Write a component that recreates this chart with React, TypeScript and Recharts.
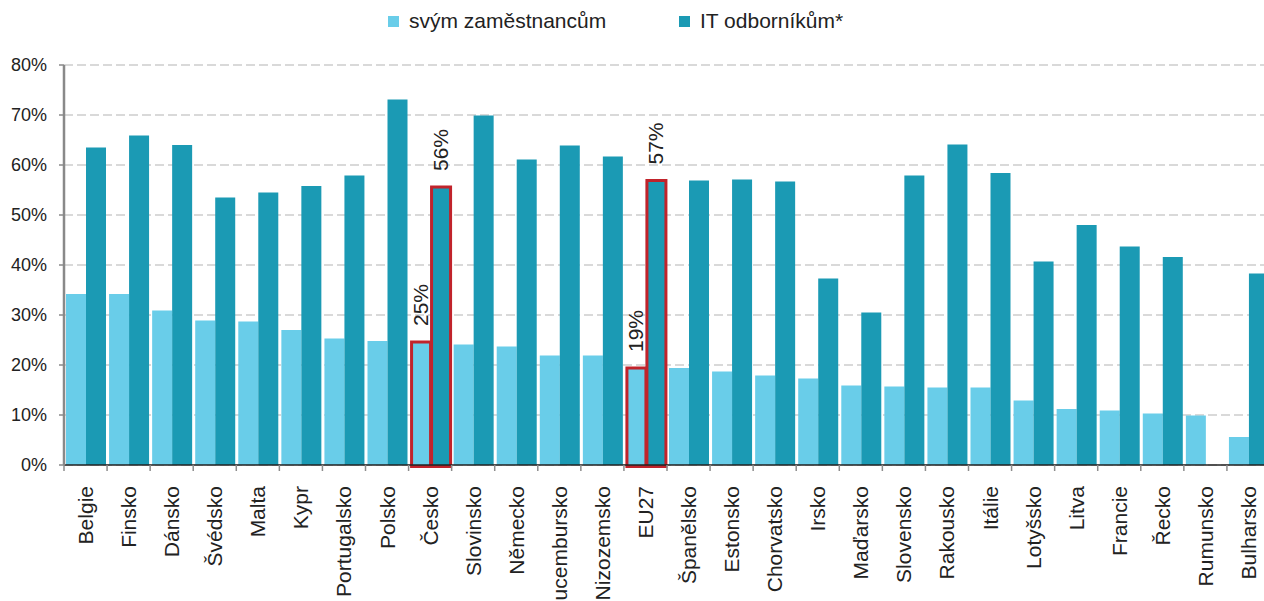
import React from 'react';
import { BarChart, Bar, XAxis, YAxis, CartesianGrid, LabelList } from 'recharts';

const countries = [
  'Belgie', 'Finsko', 'Dánsko', 'Švédsko', 'Malta', 'Kypr', 'Portugalsko', 'Polsko', 'Česko',
  'Slovinsko', 'Německo', 'Lucembursko', 'Nizozemsko', 'EU27', 'Španělsko', 'Estonsko',
  'Chorvatsko', 'Irsko', 'Maďarsko', 'Slovensko', 'Rakousko', 'Itálie', 'Lotyšsko', 'Litva',
  'Francie', 'Řecko', 'Rumunsko', 'Bulharsko',
];

// školení svým zaměstnancům
const ownStaff = [
  34.2, 34.2, 30.9, 28.9, 28.7, 27.0, 25.3, 24.8, 24.6,
  24.1, 23.7, 21.9, 21.9, 19.4, 19.4, 18.7,
  17.9, 17.3, 15.9, 15.7, 15.5, 15.5, 12.9, 11.2,
  10.9, 10.3, 9.9, 5.6,
];

// školení IT odborníkům
const itStaff: (number | null)[] = [
  63.5, 65.9, 64.0, 53.5, 54.5, 55.8, 57.9, 73.1, 55.6,
  69.9, 61.1, 63.9, 61.7, 56.9, 56.9, 57.1,
  56.7, 37.3, 30.5, 57.9, 64.1, 58.4, 40.7, 48.0,
  43.7, 41.6, null, 38.3,
];

const yTicks = [0, 10, 20, 30, 40, 50, 60, 70, 80];
const highlighted = ['Česko', 'EU27'];

const LIGHT = '#69CDE9';
const DARK = '#1B9AB4';
const RED = '#C1232B';
const FONT = '"Liberation Sans", Arial, sans-serif';

const data = countries.map((country, i) => ({
  country,
  own: ownStaff[i],
  it: itStaff[i],
}));

const CHART_W = 1272;
const CHART_H = 601;
const Y_W = 64;
const M_RIGHT = 2;
const BAND = (CHART_W - Y_W - M_RIGHT) / countries.length;

const BarShape = (props: any) => {
  const { x, y, width, height, fill, payload } = props;
  if (height == null || height <= 0) return null;
  const hi = highlighted.includes(payload?.country);
  return (
    <g>
      <rect x={x} y={y} width={width} height={height} fill={fill} />
      {hi && (
        <rect x={x + 1} y={y} width={width - 1} height={height + 1.5} fill="none" stroke={RED} strokeWidth={3} />
      )}
    </g>
  );
};

const RotLabel = (props: any) => {
  const { x, y, width, value } = props;
  if (value == null) return null;
  const cx = x + width / 2;
  const ty = y - 16;
  return (
    <text
      x={cx}
      y={ty}
      transform={`rotate(-90 ${cx} ${ty})`}
      textAnchor="start"
      dominantBaseline="central"
      fontSize={21}
      fontFamily={FONT}
      fill="#222"
    >
      {`${Math.round(value)}%`}
    </text>
  );
};

const CategoryTick = (props: any) => {
  const { x, y, payload } = props;
  const left = x - BAND / 2;
  const ty = y + 13;
  return (
    <g>
      <line x1={left} y1={y - 8} x2={left} y2={y - 2} stroke="#8c8c8c" strokeWidth={1.5} />
      <text
        x={x}
        y={ty}
        transform={`rotate(-90 ${x} ${ty})`}
        textAnchor="end"
        dominantBaseline="central"
        fontSize={21}
        fontFamily={FONT}
        fill="#222"
      >
        {payload.value}
      </text>
    </g>
  );
};

const LegendItem = ({ color, label, left }: { color: string; label: string; left: number }) => (
  <div style={{ position: 'absolute', left, top: 8, display: 'flex', alignItems: 'center', height: 26 }}>
    <div style={{ width: 11, height: 11, background: color, marginRight: 10 }} />
    <span style={{ fontFamily: FONT, fontSize: 21, color: '#222', whiteSpace: 'nowrap' }}>{label}</span>
  </div>
);

export default function App() {
  return (
    <div style={{ position: 'absolute', left: 0, top: 0, width: 1264, height: 601, overflow: 'hidden', background: '#fff' }}>
      <LegendItem color={LIGHT} label="svým zaměstnancům" left={388} />
      <LegendItem color={DARK} label="IT odborníkům*" left={679} />
      <BarChart
        width={CHART_W}
        height={CHART_H}
        data={data}
        margin={{ top: 65, right: M_RIGHT, left: 0, bottom: 0 }}
        barCategoryGap={2}
        barGap={0}
      >
        <CartesianGrid vertical={false} stroke="#d9d9d9" strokeWidth={2} strokeDasharray="9 4" />
        <XAxis
          dataKey="country"
          interval={0}
          height={136}
          tickLine={false}
          axisLine={{ stroke: '#222', strokeWidth: 1.5 }}
          tick={<CategoryTick />}
        />
        <YAxis
          domain={[0, 80]}
          ticks={yTicks}
          width={Y_W}
          tickFormatter={(v: number) => `${v}%`}
          axisLine={{ stroke: '#898989', strokeWidth: 2.5 }}
          tickLine={{ stroke: '#898989', strokeWidth: 1.5 }}
          tickSize={5}
          tickMargin={12}
          tick={{ fontSize: 18, fontFamily: FONT, fill: '#222' }}
        />
        <Bar dataKey="own" fill={LIGHT} shape={<BarShape />} isAnimationActive={false}>
          <LabelList
            dataKey={(d: any) => (highlighted.includes(d.country) ? d.own : null)}
            content={<RotLabel />}
          />
        </Bar>
        <Bar dataKey="it" fill={DARK} shape={<BarShape />} isAnimationActive={false}>
          <LabelList
            dataKey={(d: any) => (highlighted.includes(d.country) ? d.it : null)}
            content={<RotLabel />}
          />
        </Bar>
      </BarChart>
    </div>
  );
}
